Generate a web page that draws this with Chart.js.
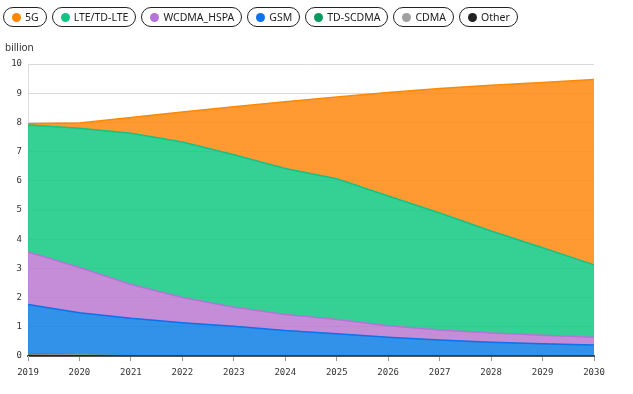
<!DOCTYPE html>
<html>
<head>
<meta charset="utf-8">
<script src="https://cdn.jsdelivr.net/npm/chart.js@4/dist/chart.umd.min.js"></script>
<style>
    body { margin: 0; background: #fff; font-family: "Noto Sans", sans-serif; }
    #wrap { position: relative; width: 633px; height: 394px; }
    #legend { position: absolute; left: 3px; top: 7px; display: flex; gap: 5px; }
    .pill {
        display: flex; align-items: center; box-sizing: border-box;
        height: 20px; padding: 0 7px 0 8px; border: 1.4px solid #222; border-radius: 11px;
        font-size: 10.5px; color: #222; white-space: nowrap;
    }
    .dot { width: 9px; height: 9px; border-radius: 50%; margin-right: 4px; }
    #unit { position: absolute; left: 5px; top: 40px; font-size: 10px; color: #333; }
    canvas { position: absolute; left: 0; top: 0; }
</style>
</head>
<body>
<div id="wrap">
    <canvas id="chart" width="633" height="394"></canvas>
    <div id="legend"></div>
    <div id="unit">billion</div>
</div>
<script>
// years on the x axis
var years = ['2019', '2020', '2021', '2022', '2023', '2024', '2025', '2026', '2027', '2028', '2029', '2030'];

// subscriptions, billion (stacked from bottom: Other, CDMA, TD-SCDMA, GSM, WCDMA, LTE, 5G)
var other    = [0.02, 0.01, 0, 0, 0, 0, 0, 0, 0, 0, 0, 0];
var cdma     = [0.03, 0.02, 0, 0, 0, 0, 0, 0, 0, 0, 0, 0];
var tdscdma  = [0.03, 0.01, 0, 0, 0, 0, 0, 0, 0, 0, 0, 0];
var gsm      = [1.68, 1.44, 1.29, 1.14, 1.02, 0.87, 0.76, 0.64, 0.55, 0.47, 0.42, 0.38];
var wcdma    = [1.80, 1.55, 1.16, 0.86, 0.65, 0.55, 0.49, 0.40, 0.34, 0.32, 0.29, 0.26];
var lte      = [4.35, 4.77, 5.18, 5.33, 5.22, 5.00, 4.82, 4.44, 4.01, 3.49, 3.00, 2.48];
var fiveG    = [0.04, 0.18, 0.54, 1.03, 1.65, 2.29, 2.80, 3.54, 4.26, 4.99, 5.66, 6.35];

var series = [
    { label: 'Other', data: other, line: '#222222', fill: 'rgba(34,34,34,0.85)' },
    { label: 'CDMA', data: cdma, line: '#a0a0a0', fill: 'rgba(160,160,160,0.85)' },
    { label: 'TD-SCDMA', data: tdscdma, line: '#0b9a5e', fill: 'rgba(11,154,94,0.85)' },
    { label: 'GSM', data: gsm, line: '#0a72ea', fill: 'rgba(14,126,228,0.85)' },
    { label: 'WCDMA_HSPA', data: wcdma, line: '#b673d8', fill: 'rgba(187,121,209,0.85)' },
    { label: 'LTE/TD-LTE', data: lte, line: '#14c283', fill: 'rgba(16,200,129,0.85)' },
    { label: '5G', data: fiveG, line: '#ff8800', fill: 'rgba(255,136,15,0.85)' }
];

var datasets = series.map(function (s, i) {
    return {
        label: s.label,
        data: s.data,
        borderColor: s.line,
        backgroundColor: s.fill,
        borderWidth: 1.5,
        pointRadius: 0,
        tension: 0,
        fill: i === 0 ? 'origin' : '-1'
    };
});

var ctx = document.getElementById('chart').getContext('2d');
var chart = new Chart(ctx, {
    type: 'line',
    data: { labels: years, datasets: datasets },
    options: {
        responsive: false,
        animation: false,
        layout: { padding: { top: 64, right: 39, left: 0, bottom: 0 } },
        plugins: {
            legend: { display: false },
            tooltip: { enabled: false }
        },
        scales: {
            x: {
                offset: false,
                afterFit: function (axis) { axis.height = 38; },
                grid: { drawOnChartArea: false, tickLength: 5, color: '#999' },
                border: { color: '#555', width: 2 },
                ticks: { color: '#333', padding: 6, font: { family: 'DejaVu Sans Mono', size: 9 } }
            },
            y: {
                stacked: true,
                min: 0,
                max: 10,
                afterFit: function (axis) { axis.width = 28; },
                grid: { color: '#d9d9d9', drawTicks: false },
                border: { color: '#ddd' },
                ticks: { stepSize: 1, color: '#333', padding: 6, font: { family: 'DejaVu Sans Mono', size: 9 } }
            }
        }
    }
});

// legend as pills, top series first
var legend = document.getElementById('legend');
series.slice().reverse().forEach(function (s) {
    var pill = document.createElement('div');
    pill.className = 'pill';
    pill.innerHTML = '<span class="dot" style="background:' + s.line + '"></span>' + s.label;
    legend.appendChild(pill);
});
</script>
</body>
</html>
